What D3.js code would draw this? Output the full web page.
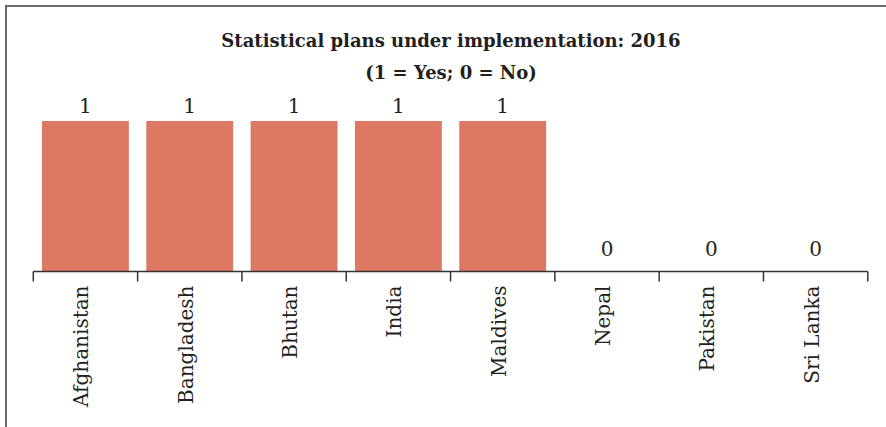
<!DOCTYPE html>
<html><head><meta charset="utf-8">
<script src="https://cdn.jsdelivr.net/npm/d3@7"></script>
<style>html,body{margin:0;padding:0;background:#fff;}svg{display:block;}</style>
</head><body>
<script>
const categories = ["Afghanistan","Bangladesh","Bhutan","India","Maldives","Nepal","Pakistan","Sri Lanka"];
const values = [1,1,1,1,1,0,0,0];
const titleLines = ["Statistical plans under implementation: 2016","(1 = Yes; 0 = No)"];

const W = 886, H = 427;
const svg = d3.select("body").append("svg").attr("width", W).attr("height", H);

// frame
svg.append("path").attr("d", `M6,${H+5} L6,6 L${W+5},6`)
  .attr("fill","none").attr("stroke","#6b6b6b").attr("stroke-width",2);

const x = d3.scaleBand().domain(categories).range([33.3, 867.8]).paddingInner(0.167).paddingOuter(0.083);
const y = d3.scaleLinear().domain([0,1]).range([271.5, 121]);

// title
svg.append("g").selectAll("text").data(titleLines).join("text")
  .attr("x", 451).attr("y", (d,i)=> 47 + i*32)
  .attr("text-anchor","middle")
  .attr("font-family","DejaVu Serif").attr("font-weight","bold").attr("font-size",18)
  .attr("fill","#231f20").text(d=>d);

// bars
svg.append("g").selectAll("rect").data(values).join("rect")
  .attr("x",(d,i)=>x(categories[i])).attr("width",x.bandwidth())
  .attr("y",d=>y(d)).attr("height",d=>y(0)-y(d))
  .attr("fill","#dd7862");

// value labels
svg.append("g").selectAll("text").data(values).join("text")
  .attr("x",(d,i)=>x(categories[i])+x.bandwidth()/2)
  .attr("y",d=> y(d) - (d>0 ? 8 : 16))
  .attr("text-anchor","middle")
  .attr("font-family","DejaVu Serif").attr("font-size",20).attr("fill","#231f20")
  .text(d=>d);

// axis
const ax = svg.append("g").attr("transform",`translate(0,${y(0)})`);
ax.append("line").attr("x1",x.range()[0]).attr("x2",x.range()[1]).attr("stroke","#333").attr("stroke-width",1.5);
const edges = d3.range(categories.length+1).map(i=> x.range()[0] + i*((x.range()[1]-x.range()[0])/categories.length));
ax.selectAll("line.tick").data(edges).join("line").attr("class","tick")
  .attr("x1",d=>d).attr("x2",d=>d).attr("y1",0).attr("y2",10)
  .attr("stroke","#333").attr("stroke-width",1.5);
ax.selectAll("text").data(categories).join("text")
  .attr("transform",d=>`translate(${x(d)+x.bandwidth()/2+3},14) rotate(-90)`)
  .attr("text-anchor","end")
  .attr("font-family","DejaVu Serif").attr("font-size",20).attr("fill","#231f20")
  .text(d=>d);
</script>
</body></html>
